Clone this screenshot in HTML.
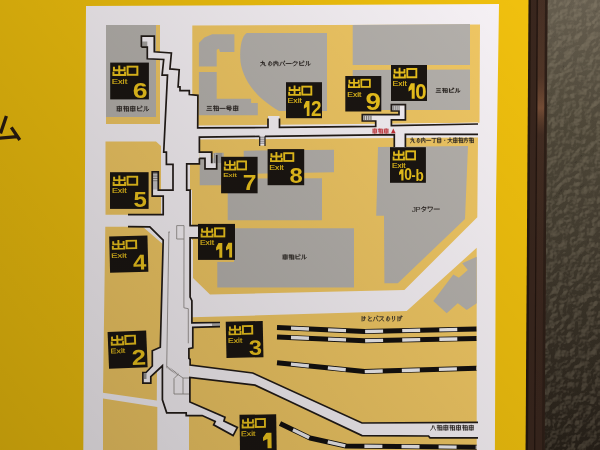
<!DOCTYPE html>
<html><head><meta charset="utf-8"><style>
html,body{margin:0;padding:0;width:600px;height:450px;overflow:hidden;background:#f5c40e;}
svg{display:block;font-family:"Liberation Sans",sans-serif;filter:blur(0.5px);}
</style></head><body>
<svg width="600" height="450" viewBox="0 0 600 450">
<defs>
<linearGradient id="shade" gradientUnits="userSpaceOnUse" x1="600" y1="0" x2="14.3" y2="468.5">
<stop offset="0" stop-color="#000" stop-opacity="0"/><stop offset="1" stop-color="#000" stop-opacity="0.24"/>
</linearGradient>
<linearGradient id="wallg" gradientUnits="userSpaceOnUse" x1="0" y1="0" x2="0" y2="450">
<stop offset="0" stop-color="#675f50"/><stop offset="0.28" stop-color="#50493a"/><stop offset="0.5" stop-color="#463f32"/><stop offset="1" stop-color="#282119"/>
</linearGradient>
<linearGradient id="copper" gradientUnits="userSpaceOnUse" x1="0" y1="0" x2="0" y2="450">
<stop offset="0" stop-color="#6a4a38" stop-opacity="0.25"/><stop offset="0.17" stop-color="#8a5a3c" stop-opacity="0.3"/><stop offset="0.24" stop-color="#a06a48" stop-opacity="0.6"/><stop offset="0.3" stop-color="#7a5238" stop-opacity="0.15"/><stop offset="0.6" stop-color="#5a3a28" stop-opacity="0.1"/><stop offset="1" stop-color="#3a2a20" stop-opacity="0"/>
</linearGradient>
<filter id="tex" x="0" y="0" width="100%" height="100%" color-interpolation-filters="sRGB">
<feTurbulence type="fractalNoise" baseFrequency="0.13" numOctaves="3" seed="4" result="n"/>
<feDiffuseLighting in="n" surfaceScale="2.2" diffuseConstant="1" lighting-color="#fff" result="l"><feDistantLight azimuth="225" elevation="55"/></feDiffuseLighting>
<feColorMatrix in="l" type="matrix" values="0 0 0 0 0.75  0 0 0 0 0.7  0 0 0 0 0.6  0.9 0 0 0 -0.66"/>
</filter>
<filter id="tex2" x="0" y="0" width="100%" height="100%" color-interpolation-filters="sRGB">
<feTurbulence type="fractalNoise" baseFrequency="0.13" numOctaves="3" seed="4" result="n"/>
<feDiffuseLighting in="n" surfaceScale="2.2" diffuseConstant="1" lighting-color="#fff" result="l"><feDistantLight azimuth="225" elevation="55"/></feDiffuseLighting>
<feColorMatrix in="l" type="matrix" values="0 0 0 0 0.05  0 0 0 0 0.04  0 0 0 0 0.03  -1.3 0 0 0 0.62"/>
</filter>
</defs>
<rect x="0" y="0" width="600" height="450" fill="#f5c40e"/>
<polygon points="546.0,0.0 600.0,0.0 600.0,450.0 543.5,450.0" fill="url(#wallg)" />
<rect x="540" y="0" width="60" height="450" filter="url(#tex)"/>
<rect x="540" y="0" width="60" height="450" filter="url(#tex2)"/>
<polygon points="528.0,0.0 547.5,0.0 544.5,450.0 525.3,450.0" fill="#3a271e" />
<polygon points="528.0,0.0 531.0,0.0 528.0,450.0 525.3,450.0" fill="#24170f" />
<polygon points="536.6,0.0 537.8,0.0 535.3,450.0 534.1,450.0" fill="#22150f" />
<polygon points="545.0,0.0 547.5,0.0 544.5,450.0 542.0,450.0" fill="#2e1f17" />
<polygon points="538.2,0.0 545.0,0.0 542.0,450.0 535.5,450.0" fill="url(#copper)" />
<polygon points="495.0,0.0 528.5,0.0 525.5,450.0 490.0,450.0" fill="#f5c40e" />
<polygon points="86.0,6.0 499.0,4.0 496.0,200.0 494.9,450.0 83.3,450.0" fill="#fcf7fb" />
<polygon points="106.0,25.0 160.0,25.0 160.0,124.0 106.0,124.0" fill="#f6cc66" />
<polygon points="106.0,25.0 156.0,25.0 156.0,117.0 106.0,117.0" fill="#b9b5b0" />
<polygon points="105.5,141.5 156.0,141.5 161.0,146.0 161.0,214.7 105.5,214.7" fill="#f6cc66" />
<polygon points="105.3,226.7 142.7,226.7 162.7,244.0 160.3,347.0 152.3,350.8 152.3,366.0 146.0,372.5 142.9,372.5 142.9,383.2 150.8,383.2 150.8,376.7 157.0,371.0 156.8,400.5 103.0,392.7" fill="#f6cc66" />
<polygon points="103.0,398.5 157.3,407.0 157.3,450.0 103.0,450.0" fill="#f6cc66" />
<polygon points="192.3,25.5 480.0,24.5 479.5,122.7 200.0,125.6 197.7,125.6 197.7,95.0 192.3,95.0" fill="#f6cc66" />
<polygon points="199.4,139.6 478.0,137.3 477.3,217.3 404.4,290.0 210.0,294.5 193.0,278.0 193.0,240.0 192.0,240.0 192.0,190.1 188.5,190.1 188.5,164.0 199.4,164.0" fill="#f6cc66" />
<polygon points="192.0,317.3 406.7,311.1 476.7,247.8 476.7,450.0 189.0,450.0 189.0,402.0 189.9,365.0 190.1,359.3 188.9,358.4 188.9,348.7 192.8,347.8 192.8,327.3 191.9,322.9" fill="#f6cc66" />
<polygon points="198.9,43.1 204.4,37.6 212.2,34.2 234.4,34.2 234.4,52.0 220.0,52.0 218.9,48.7 216.7,49.8 216.7,66.4 198.9,66.4" fill="#b9b5b0" />
<polygon points="198.9,72.0 216.7,72.0 216.7,98.7 251.1,98.7 251.1,103.1 257.8,103.1 257.8,115.3 198.9,115.3" fill="#b9b5b0" />
<path d="M246.7,33.1 C240.5,37 239.5,52 240.5,62 C243,80 256,98 279,111 L327,111 L327,33.1 Z" fill="#b9b5b0"/>
<polygon points="352.7,25.0 470.0,24.0 470.0,65.0 352.7,65.0" fill="#b9b5b0" />
<polygon points="352.7,70.0 470.0,69.5 470.0,110.0 352.7,110.0" fill="#b9b5b0" />
<polygon points="199.7,158.3 215.0,158.3 215.0,152.7 223.7,152.7 223.7,160.0 221.0,160.0 221.0,185.3 199.7,185.3" fill="#b9b5b0" />
<polygon points="243.7,150.7 334.0,149.7 334.0,172.3 243.7,174.0" fill="#b9b5b0" />
<polygon points="227.7,178.7 322.0,178.2 322.0,220.3 227.7,220.3" fill="#b9b5b0" />
<polygon points="234.0,228.3 354.0,228.3 354.0,287.5 217.3,287.5 217.3,262.0 234.0,262.0" fill="#b9b5b0" />
<polygon points="300.0,147.0 334.5,147.0 334.5,228.0 300.0,228.0" fill="#b9b5b0" opacity="0"/>
<polygon points="378.0,147.0 468.0,146.0 465.0,218.9 397.8,283.3 384.4,283.3 384.0,215.8 376.2,215.8" fill="#b9b5b0" />
<polygon points="433.3,301.1 453.3,274.4 458.9,277.8 467.8,270.0 462.2,263.3 476.7,256.7 476.7,303.3 466.7,310.0 457.8,303.3 446.7,313.3" fill="#b9b5b0" />
<polygon points="196.7,127.5 478.0,122.5 478.0,137.3 199.4,137.2" fill="#fcf7fb" />
<polygon points="141.4,36.2 154.3,36.2 154.3,51.8 171.4,53.0 169.9,68.9 179.2,69.7 178.1,86.8 180.0,86.8 180.0,90.7 189.3,90.7 189.3,94.5 197.9,95.3 197.9,128.0 165.0,128.0 167.5,75.1 162.1,75.1 163.7,59.5 147.3,58.8 147.3,47.1 141.4,47.1" fill="#fcf7fb" />
<polygon points="142.2,41.5 147.3,41.5 147.3,47.1 142.2,47.1" fill="#a9a6a3" />
<polygon points="268.0,116.0 279.5,116.0 279.5,128.0 268.0,128.0" fill="#fcf7fb" />
<polygon points="362.3,114.6 399.0,114.6 399.0,111.0 391.4,111.0 391.4,104.7 405.4,104.7 405.4,119.8 391.4,119.8 391.4,126.0 375.7,126.0 375.7,121.0 362.3,121.0" fill="#fcf7fb" />
<polygon points="363.3,115.8 372.0,115.8 372.0,120.0 363.3,120.0" fill="#9d9b99" />
<polygon points="392.4,105.8 400.0,105.8 400.0,110.0 392.4,110.0" fill="#9d9b99" />
<polygon points="394.3,134.0 405.4,134.0 405.4,148.0 394.3,148.0" fill="#fcf7fb" />
<polygon points="199.4,137.2 199.4,152.2 211.7,152.2 211.7,163.3 216.7,163.3 216.7,168.9 205.0,168.9 205.0,158.3 199.4,158.3" fill="#fcf7fb" />
<polygon points="213.5,153.0 222.0,153.0 222.0,163.0 213.5,163.0" fill="#a3a19f" />
<polygon points="173.0,164.4 173.0,190.1 158.3,190.1 158.3,171.8 152.2,171.8 152.2,196.2 163.2,196.2 163.2,214.6 128.0,214.6 128.0,226.7 149.8,226.8 163.2,240.2 190.0,240.0 190.0,164.4" fill="#fcf7fb" />
<polygon points="152.6,172.5 158.0,172.5 158.0,189.5 152.6,189.5" fill="#c9c7c8" />
<polygon points="190.1,225.6 198.5,225.6 198.5,237.8 190.1,237.8" fill="#fcf7fb" />
<polygon points="160.3,347.3 152.3,350.8 152.3,366.0 146.0,372.5 142.9,372.5 142.9,383.2 150.8,383.2 150.8,376.7 162.4,365.8 170.0,365.8 170.0,347.3" fill="#fcf7fb" />
<polygon points="144.0,373.5 146.5,373.5 146.5,379.0 144.0,379.0" fill="#9a9896" />
<polygon points="189.7,322.9 220.0,322.5 220.0,326.6 189.7,327.3" fill="#fcf7fb" />
<polygon points="189.9,365.1 252.7,373.0 362.0,423.0 478.0,422.4 478.0,437.8 430.0,437.8 428.5,436.0 362.0,435.6 286.7,400.0 255.0,385.2 189.9,377.4" fill="#fcf7fb" />
<polygon points="189.9,377.0 189.9,402.0 225.0,417.2 223.9,421.0 237.4,427.5 233.1,435.6 213.6,424.8 215.2,421.5 202.2,415.6 186.2,415.7 186.2,412.8 166.7,412.8 162.4,399.8 162.4,373.0 189.9,373.0" fill="#fcf7fb" />
<rect x="363.3" y="115.8" width="8.70" height="4.20" fill="#e4e1e3"/>
<g stroke="#8d8a87" stroke-width="1.20"><line x1="364.39" y1="115.8" x2="364.39" y2="120"/><line x1="366.56" y1="115.8" x2="366.56" y2="120"/><line x1="368.74" y1="115.8" x2="368.74" y2="120"/><line x1="370.91" y1="115.8" x2="370.91" y2="120"/></g>
<rect x="392.4" y="105.8" width="7.60" height="4.20" fill="#e4e1e3"/>
<g stroke="#8d8a87" stroke-width="1.05"><line x1="393.35" y1="105.8" x2="393.35" y2="110"/><line x1="395.25" y1="105.8" x2="395.25" y2="110"/><line x1="397.15" y1="105.8" x2="397.15" y2="110"/><line x1="399.05" y1="105.8" x2="399.05" y2="110"/></g>
<rect x="152.6" y="172.5" width="5.40" height="9.50" fill="#e4e1e3"/>
<g stroke="#8d8a87" stroke-width="1.31"><line x1="152.6" y1="173.69" x2="158" y2="173.69"/><line x1="152.6" y1="176.06" x2="158" y2="176.06"/><line x1="152.6" y1="178.44" x2="158" y2="178.44"/><line x1="152.6" y1="180.81" x2="158" y2="180.81"/></g>
<rect x="212" y="323.3" width="8.00" height="2.70" fill="#e4e1e3"/>
<g stroke="#8d8a87" stroke-width="1.10"><line x1="213.00" y1="323.3" x2="213.00" y2="326"/><line x1="215.00" y1="323.3" x2="215.00" y2="326"/><line x1="217.00" y1="323.3" x2="217.00" y2="326"/><line x1="219.00" y1="323.3" x2="219.00" y2="326"/></g>
<rect x="213.5" y="153.5" width="2.50" height="9.50" fill="#e4e1e3"/>
<g stroke="#9a9794" stroke-width="1.38"><line x1="214.75" y1="153.5" x2="214.75" y2="163"/></g>
<polyline points="141.4,47.1 141.4,36.2 154.3,36.2 154.3,51.8 171.4,53.0 169.9,68.9 179.2,69.7 178.1,86.8 180.0,86.8 180.0,90.7 189.3,90.7 189.3,94.5 197.9,95.3 197.7,127.8 268.0,127.5 268.0,118.5" stroke="#231c18" stroke-width="1.7" fill="none" stroke-linejoin="miter"/>
<polyline points="279.5,118.5 279.5,127.3 375.7,126.3 375.7,121.0 362.3,121.0 362.3,114.6 399.0,114.6 399.0,111.0 391.4,111.0 391.4,104.7 405.4,104.7 405.4,119.8 391.4,119.8 391.4,125.7 478.0,124.0" stroke="#231c18" stroke-width="1.7" fill="none" stroke-linejoin="miter"/>
<polyline points="199.4,158.3 205.0,158.3 205.0,168.9 216.7,168.9 216.7,155.0" stroke="#231c18" stroke-width="1.7" fill="none" stroke-linejoin="miter"/>
<polyline points="211.7,163.3 211.7,152.2 199.4,152.2 199.4,137.2 259.7,136.4" stroke="#231c18" stroke-width="1.7" fill="none" stroke-linejoin="miter"/>
<polyline points="265.0,136.3 394.3,134.6 394.3,147.0" stroke="#231c18" stroke-width="1.7" fill="none" stroke-linejoin="miter"/>
<polyline points="405.4,147.0 405.4,134.4 478.0,134.3" stroke="#231c18" stroke-width="1.7" fill="none" stroke-linejoin="miter"/>
<polygon points="259.7,135.0 265.0,135.0 265.0,145.5 259.7,145.5" fill="#fcf7fb" />
<g stroke="#8a8784" stroke-width="0.9"><line x1="260" y1="137.2" x2="264.7" y2="137.2"/><line x1="260" y1="139.2" x2="264.7" y2="139.2"/><line x1="260" y1="141.2" x2="264.7" y2="141.2"/><line x1="260" y1="143.2" x2="264.7" y2="143.2"/></g>
<polyline points="259.7,136.4 259.7,146.0" stroke="#231c18" stroke-width="1.2" fill="none" stroke-linejoin="miter"/>
<polyline points="265.0,136.3 265.0,146.0" stroke="#231c18" stroke-width="1.2" fill="none" stroke-linejoin="miter"/>
<polyline points="141.4,47.1 147.3,47.1 147.3,58.8 163.7,59.5 162.1,75.1 167.5,75.1 163.7,152.2 166.4,152.2 166.4,164.4 173.0,164.4 173.0,190.1 158.3,190.1 158.3,171.8 152.2,171.8 152.2,196.2 163.2,196.2 163.2,214.6 128.0,214.6" stroke="#231c18" stroke-width="1.7" fill="none" stroke-linejoin="miter"/>
<polyline points="199.4,158.3 199.4,163.9 186.7,163.9 186.7,190.1 190.1,190.1 190.1,225.6 198.5,225.6" stroke="#231c18" stroke-width="1.7" fill="none" stroke-linejoin="miter"/>
<polyline points="198.5,237.8 190.1,237.8 190.1,297.1 191.9,300.7 191.9,322.9 220.0,322.5" stroke="#231c18" stroke-width="1.7" fill="none" stroke-linejoin="miter"/>
<polyline points="220.0,326.6 192.8,327.3 192.8,347.8 188.9,348.7 188.9,358.4 190.1,359.3 190.1,365.1 252.7,373.0 362.0,423.0 478.0,422.4" stroke="#231c18" stroke-width="1.7" fill="none" stroke-linejoin="miter"/>
<polyline points="128.0,226.7 149.8,226.8 163.2,240.2 160.3,347.3 152.3,350.8 152.3,366.0 146.0,372.5 142.9,372.5 142.9,383.2 150.8,383.2 150.8,376.7 162.4,365.8 162.4,399.8 166.7,412.8 186.2,412.8 186.2,415.7 202.2,415.6 215.2,421.5 213.6,424.8 233.1,435.6 237.4,427.5 223.9,421.0 225.0,417.2 189.9,402.0 189.9,377.4 255.0,385.2 286.7,400.0 362.0,435.6 428.5,436.0 430.0,437.8 478.0,437.8" stroke="#231c18" stroke-width="1.7" fill="none" stroke-linejoin="miter"/>
<polyline points="168.9,232.0 166.7,367.3" stroke="#8a8582" stroke-width="0.8" fill="none"/>
<polyline points="176.7,225.6 176.7,239.0 184.0,239.0 184.0,225.6 176.7,225.6" stroke="#8a8582" stroke-width="0.8" fill="none"/>
<polyline points="184.0,239.0 183.9,307.8 188.3,308.7 188.3,343.3" stroke="#8a8582" stroke-width="0.8" fill="none"/>
<polyline points="168.5,232.0 170.0,232.0" stroke="#8a8582" stroke-width="0.8" fill="none"/>
<polyline points="167.0,367.0 178.0,374.5" stroke="#8a8582" stroke-width="2.2" fill="none" stroke-dasharray="0.7 0.7"/>
<polyline points="174.0,394.0 174.0,378.5 178.0,374.5 183.0,378.0 189.0,378.0" stroke="#8a8582" stroke-width="0.8" fill="none"/>
<polyline points="174.0,394.0 189.0,394.0" stroke="#8a8582" stroke-width="0.8" fill="none"/>
<polyline points="183.0,378.0 183.0,394.0" stroke="#8a8582" stroke-width="0.8" fill="none"/>
<polyline points="277.0,327.5 364.5,331.5 476.5,329.0" stroke="#141110" stroke-width="5.0" fill="none" stroke-linejoin="round"/>
<polyline points="277.0,327.5 364.5,331.5 476.5,329.0" stroke="#f4f2f4" stroke-width="3.4" fill="none" stroke-dasharray="18 19.1" stroke-dashoffset="23.1"/>
<polyline points="277.0,336.9 364.5,340.7 476.5,338.6" stroke="#141110" stroke-width="5.0" fill="none" stroke-linejoin="round"/>
<polyline points="277.0,336.9 364.5,340.7 476.5,338.6" stroke="#f4f2f4" stroke-width="3.4" fill="none" stroke-dasharray="18 19.1" stroke-dashoffset="23.1"/>
<polyline points="277.0,362.7 364.5,371.6 476.5,368.3" stroke="#141110" stroke-width="5.0" fill="none" stroke-linejoin="round"/>
<polyline points="277.0,362.7 364.5,371.6 476.5,368.3" stroke="#f4f2f4" stroke-width="3.4" fill="none" stroke-dasharray="18 19.1" stroke-dashoffset="23.1"/>
<polyline points="280.0,423.5 310.0,438.0 346.0,446.0 476.7,447.3" stroke="#141110" stroke-width="5.0" fill="none" stroke-linejoin="round"/>
<polyline points="280.0,423.5 310.0,438.0 346.0,446.0 476.7,447.3" stroke="#f4f2f4" stroke-width="3.4" fill="none" stroke-dasharray="18 19.1" stroke-dashoffset="22.7"/>
<g>
<rect x="110.2" y="62.6" width="38.70" height="36.80" fill="#1b1612"/>
<g transform="matrix(0.2590,0,0,0.2500,112.40,65.50)" fill="none" stroke="#f2c81e" stroke-width="7.8"><path d="M26.5,0V42 M6,5V18.6H47V5 M4,25.2V38.2H49V25.2"/><rect x="58.6" y="4.6" width="37.8" height="32.6"/></g>
<text transform="matrix(0.0937,0,0,0.0730,111.65,83.63)" font-size="100" font-weight="normal" fill="#f2c81e" stroke="#f2c81e" stroke-width="2">Exit</text>
<text transform="matrix(0.2667,0,0,0.2268,132.83,97.57)" font-size="100" font-weight="bold" fill="#f2c81e">6</text>
</g>
<g>
<rect x="110" y="172.2" width="38.60" height="36.70" fill="#1b1612"/>
<g transform="matrix(0.2550,0,0,0.2452,112.60,175.60)" fill="none" stroke="#f2c81e" stroke-width="7.8"><path d="M26.5,0V42 M6,5V18.6H47V5 M4,25.2V38.2H49V25.2"/><rect x="58.6" y="4.6" width="37.8" height="32.6"/></g>
<text transform="matrix(0.0892,0,0,0.0703,111.89,193.23)" font-size="100" font-weight="normal" fill="#f2c81e" stroke="#f2c81e" stroke-width="2">Exit</text>
<text transform="matrix(0.2400,0,0,0.2271,133.38,206.77)" font-size="100" font-weight="bold" fill="#f2c81e">5</text>
</g>
<g transform="rotate(-1.5,128.8,254.1)">
<rect x="109.6" y="235.9" width="38.30" height="36.40" fill="#1b1612"/>
<g transform="matrix(0.2530,0,0,0.2286,112.00,239.80)" fill="none" stroke="#f2c81e" stroke-width="7.8"><path d="M26.5,0V42 M6,5V18.6H47V5 M4,25.2V38.2H49V25.2"/><rect x="58.6" y="4.6" width="37.8" height="32.6"/></g>
<text transform="matrix(0.0937,0,0,0.0649,111.25,257.54)" font-size="100" font-weight="normal" fill="#f2c81e" stroke="#f2c81e" stroke-width="2">Exit</text>
<text transform="matrix(0.2377,0,0,0.2145,132.92,269.80)" font-size="100" font-weight="bold" fill="#f2c81e">4</text>
</g>
<g transform="rotate(-2.3,127.6,349.6)">
<rect x="108.3" y="331.2" width="38.60" height="36.80" fill="#1b1612"/>
<g transform="matrix(0.2530,0,0,0.2429,111.00,334.80)" fill="none" stroke="#f2c81e" stroke-width="7.8"><path d="M26.5,0V42 M6,5V18.6H47V5 M4,25.2V38.2H49V25.2"/><rect x="58.6" y="4.6" width="37.8" height="32.6"/></g>
<text transform="matrix(0.0899,0,0,0.0676,110.28,352.73)" font-size="100" font-weight="normal" fill="#f2c81e" stroke="#f2c81e" stroke-width="2">Exit</text>
<text transform="matrix(0.2571,0,0,0.2129,131.33,365.20)" font-size="100" font-weight="bold" fill="#f2c81e">2</text>
</g>
<g>
<rect x="221.1" y="156.8" width="36.50" height="36.50" fill="#1b1612"/>
<g transform="matrix(0.2310,0,0,0.2452,223.80,160.30)" fill="none" stroke="#f2c81e" stroke-width="7.8"><path d="M26.5,0V42 M6,5V18.6H47V5 M4,25.2V38.2H49V25.2"/><rect x="58.6" y="4.6" width="37.8" height="32.6"/></g>
<text transform="matrix(0.0816,0,0,0.0595,223.15,177.14)" font-size="100" font-weight="normal" fill="#f2c81e" stroke="#f2c81e" stroke-width="2">Exit</text>
<text transform="matrix(0.2468,0,0,0.2221,242.81,190.32)" font-size="100" font-weight="bold" fill="#f2c81e">7</text>
</g>
<g>
<rect x="267.6" y="149.1" width="36.60" height="36.10" fill="#1b1612"/>
<g transform="matrix(0.2420,0,0,0.2381,270.00,152.10)" fill="none" stroke="#f2c81e" stroke-width="7.8"><path d="M26.5,0V42 M6,5V18.6H47V5 M4,25.2V38.2H49V25.2"/><rect x="58.6" y="4.6" width="37.8" height="32.6"/></g>
<text transform="matrix(0.0867,0,0,0.0662,269.31,169.83)" font-size="100" font-weight="normal" fill="#f2c81e" stroke="#f2c81e" stroke-width="2">Exit</text>
<text transform="matrix(0.2380,0,0,0.2155,289.59,183.38)" font-size="100" font-weight="bold" fill="#f2c81e">8</text>
</g>
<g>
<rect x="286" y="82.2" width="36.00" height="36.00" fill="#1b1612"/>
<g transform="matrix(0.2400,0,0,0.2452,288.20,85.50)" fill="none" stroke="#f2c81e" stroke-width="7.8"><path d="M26.5,0V42 M6,5V18.6H47V5 M4,25.2V38.2H49V25.2"/><rect x="58.6" y="4.6" width="37.8" height="32.6"/></g>
<text transform="matrix(0.0873,0,0,0.0770,287.50,103.12)" font-size="100" font-weight="normal" fill="#f2c81e" stroke="#f2c81e" stroke-width="2">Exit</text>
<polygon points="306.8,101.1 309.5,101.1 309.5,116.0 306.8,116.0 306.8,107.1 303.9,108.8 303.9,105.6 306.0,101.1" fill="#f2c81e" />
<text transform="matrix(0.1898,0,0,0.2143,311.03,116.00)" font-size="100" font-weight="bold" fill="#f2c81e">2</text>
</g>
<g>
<rect x="345.3" y="76" width="36.00" height="35.50" fill="#1b1612"/>
<g transform="matrix(0.2270,0,0,0.2214,348.00,78.70)" fill="none" stroke="#f2c81e" stroke-width="7.8"><path d="M26.5,0V42 M6,5V18.6H47V5 M4,25.2V38.2H49V25.2"/><rect x="58.6" y="4.6" width="37.8" height="32.6"/></g>
<text transform="matrix(0.0842,0,0,0.0716,347.33,96.73)" font-size="100" font-weight="normal" fill="#f2c81e" stroke="#f2c81e" stroke-width="2">Exit</text>
<text transform="matrix(0.2771,0,0,0.2366,365.59,109.86)" font-size="100" font-weight="bold" fill="#f2c81e">9</text>
</g>
<g>
<rect x="391" y="65" width="36.00" height="36.00" fill="#1b1612"/>
<g transform="matrix(0.2400,0,0,0.2548,393.20,67.80)" fill="none" stroke="#f2c81e" stroke-width="7.8"><path d="M26.5,0V42 M6,5V18.6H47V5 M4,25.2V38.2H49V25.2"/><rect x="58.6" y="4.6" width="37.8" height="32.6"/></g>
<text transform="matrix(0.0861,0,0,0.0716,392.51,85.73)" font-size="100" font-weight="normal" fill="#f2c81e" stroke="#f2c81e" stroke-width="2">Exit</text>
<polygon points="411.7,83.3 414.7,83.3 414.7,98.8 411.7,98.8 411.7,89.5 408.5,91.4 408.5,88.0 410.9,83.3" fill="#f2c81e" />
<text transform="matrix(0.2043,0,0,0.2225,415.18,98.88)" font-size="100" font-weight="bold" fill="#f2c81e">0</text>
</g>
<g>
<rect x="390" y="147.2" width="35.90" height="35.60" fill="#1b1612"/>
<g transform="matrix(0.2330,0,0,0.2476,392.60,150.20)" fill="none" stroke="#f2c81e" stroke-width="7.8"><path d="M26.5,0V42 M6,5V18.6H47V5 M4,25.2V38.2H49V25.2"/><rect x="58.6" y="4.6" width="37.8" height="32.6"/></g>
<text transform="matrix(0.0823,0,0,0.0649,391.94,167.54)" font-size="100" font-weight="normal" fill="#f2c81e" stroke="#f2c81e" stroke-width="2">Exit</text>
<polygon points="401.3,169.2 403.5,169.2 403.5,180.6 401.3,180.6 401.3,173.8 399.0,175.1 399.0,172.6 400.7,169.2" fill="#f2c81e" />
<text transform="matrix(0.1383,0,0,0.1606,404.35,180.44)" font-size="100" font-weight="bold" fill="#f2c81e">0</text>
<text transform="matrix(0.1240,0,0,0.1417,411.50,180.03)" font-size="100" font-weight="bold" fill="#f2c81e">-</text>
<text transform="matrix(0.1360,0,0,0.1671,415.55,180.60)" font-size="100" font-weight="bold" fill="#f2c81e">b</text>
</g>
<g>
<rect x="198" y="223.9" width="37.00" height="36.00" fill="#1b1612"/>
<g transform="matrix(0.2460,0,0,0.2476,200.60,227.20)" fill="none" stroke="#f2c81e" stroke-width="7.8"><path d="M26.5,0V42 M6,5V18.6H47V5 M4,25.2V38.2H49V25.2"/><rect x="58.6" y="4.6" width="37.8" height="32.6"/></g>
<text transform="matrix(0.0854,0,0,0.0676,199.92,244.73)" font-size="100" font-weight="normal" fill="#f2c81e" stroke="#f2c81e" stroke-width="2">Exit</text>
<polygon points="219.3,243.0 222.3,243.0 222.3,257.7 219.3,257.7 219.3,248.9 216.1,250.6 216.1,247.4 218.5,243.0" fill="#f2c81e" />
<polygon points="229.2,242.8 232.1,242.8 232.1,257.5 229.2,257.5 229.2,248.7 226.0,250.4 226.0,247.2 228.3,242.8" fill="#f2c81e" />
</g>
<g transform="rotate(-1.2,244.6,339.5)">
<rect x="226.1" y="321.4" width="37.00" height="36.20" fill="#1b1612"/>
<g transform="matrix(0.2460,0,0,0.2381,228.70,325.00)" fill="none" stroke="#f2c81e" stroke-width="7.8"><path d="M26.5,0V42 M6,5V18.6H47V5 M4,25.2V38.2H49V25.2"/><rect x="58.6" y="4.6" width="37.8" height="32.6"/></g>
<text transform="matrix(0.0854,0,0,0.0676,228.02,342.73)" font-size="100" font-weight="normal" fill="#f2c81e" stroke="#f2c81e" stroke-width="2">Exit</text>
<text transform="matrix(0.2360,0,0,0.2099,248.63,354.99)" font-size="100" font-weight="bold" fill="#f2c81e">3</text>
</g>
<g transform="rotate(-0.8,258.1,437.3)">
<rect x="239.8" y="414.6" width="36.70" height="45.40" fill="#1b1612"/>
<g transform="matrix(0.2420,0,0,0.2429,241.80,418.00)" fill="none" stroke="#f2c81e" stroke-width="7.8"><path d="M26.5,0V42 M6,5V18.6H47V5 M4,25.2V38.2H49V25.2"/><rect x="58.6" y="4.6" width="37.8" height="32.6"/></g>
<text transform="matrix(0.0867,0,0,0.0703,241.11,435.93)" font-size="100" font-weight="normal" fill="#f2c81e" stroke="#f2c81e" stroke-width="2">Exit</text>
<polygon points="267.4,433.0 271.5,433.0 271.5,448.5 267.4,448.5 267.4,439.2 263.0,441.1 263.0,437.6 266.2,433.0" fill="#f2c81e" />
</g>
<g fill="none" stroke="#2f2a26" stroke-width="1.545" stroke-linecap="round" stroke-linejoin="round"><path transform="matrix(0.6030,0,0,0.5500,116.33,106.00)" d="M1,1.2H9 M1.5,5H8.5 M1,8.8H9 M5,0.3V9.7 M1.6,2.5V7.5 M8.4,2.5V7.5"/><path transform="matrix(0.6030,0,0,0.5500,123.03,106.00)" d="M0.8,1.5H4.2 M0.8,5H4.2 M2.5,0.3V9.7 M5.5,1.2H9.2V9.5 M5.5,1.2V9.5 M5.5,5H9.2 M5.5,8.8H9.2"/><path transform="matrix(0.6030,0,0,0.5500,129.74,106.00)" d="M1,1.2H9 M1.5,5H8.5 M1,8.8H9 M5,0.3V9.7 M1.6,2.5V7.5 M8.4,2.5V7.5"/><path transform="matrix(0.6030,0,0,0.5500,136.44,106.00)" d="M2,0.8V8.8H9 M2,4.8C4.5,4.3 6.5,3.8 8,3 M7.6,0.3L8.6,1.5 M8.8,0L9.8,1"/><path transform="matrix(0.6030,0,0,0.5500,143.14,106.00)" d="M3,0.8V5.5C3,7.5 2,8.8 0.7,9.5 M6,0.8V9.2C7.5,8.5 8.5,7.5 9.3,6"/></g>
<g fill="none" stroke="#2f2a26" stroke-width="1.574" stroke-linecap="round" stroke-linejoin="round"><path transform="matrix(0.5940,0,0,0.5400,206.33,105.60)" d="M1.5,1.5H8.5 M2,5H8 M0.7,8.8H9.3"/><path transform="matrix(0.5940,0,0,0.5400,212.93,105.60)" d="M0.8,1.5H4.2 M0.8,5H4.2 M2.5,0.3V9.7 M5.5,1.2H9.2V9.5 M5.5,1.2V9.5 M5.5,5H9.2 M5.5,8.8H9.2"/><path transform="matrix(0.5940,0,0,0.5400,219.53,105.60)" d="M0.5,5.2H9.5"/><path transform="matrix(0.5940,0,0,0.5400,226.13,105.60)" d="M2,0.8H8V3.5H2Z M0.5,5H9.5 M3,5L2,7.2H8C8,9.5 6.5,9.6 5.5,9.4"/><path transform="matrix(0.5940,0,0,0.5400,232.73,105.60)" d="M1,1.2H9 M1.5,5H8.5 M1,8.8H9 M5,0.3V9.7 M1.6,2.5V7.5 M8.4,2.5V7.5"/></g>
<g fill="none" stroke="#2f2a26" stroke-width="1.700" stroke-linecap="round" stroke-linejoin="round"><path transform="matrix(0.5737,0,0,0.5000,260.32,61.00)" d="M0.8,3H7V8.8C7,9.5 8,9.6 9.5,9.2 M4,0.3V3C4,6.5 2.5,8.5 0.5,9.7 M4.8,5.5L6.5,7"/><path transform="matrix(0.5737,0,0,0.5000,266.69,61.00)" d="M5,1.5C3,4 2.5,9 4,8.5C5.5,8 6,4 5,1.5C8.5,1.5 9.5,4.5 9,6.5C8.5,8.5 7,9.3 5.5,9.6"/><path transform="matrix(0.5737,0,0,0.5000,273.07,61.00)" d="M1.5,2.2V9.7 M1.5,2.2H8.5V9.5 M5,0.3V4C5,5 3.5,6.8 2.5,7.5 M5,4.5L7.3,7"/><path transform="matrix(0.5737,0,0,0.5000,279.44,61.00)" d="M3.2,2.5C2.8,5.5 2,7.5 0.7,9.5 M6,2.5C7,5 8,7.5 9.3,9.3 M8.6,0.3a0.8,0.8 0 1,0 0.1,0"/><path transform="matrix(0.5737,0,0,0.5000,285.82,61.00)" d="M0.5,5H9.5"/><path transform="matrix(0.5737,0,0,0.5000,292.19,61.00)" d="M4.5,0.5C3.5,2.5 2.5,3.5 0.8,4.5 M3.5,2H9C8,6 6,8.5 3,9.7"/><path transform="matrix(0.5737,0,0,0.5000,298.57,61.00)" d="M2,0.8V8.8H9 M2,4.8C4.5,4.3 6.5,3.8 8,3 M7.6,0.3L8.6,1.5 M8.8,0L9.8,1"/><path transform="matrix(0.5737,0,0,0.5000,304.94,61.00)" d="M3,0.8V5.5C3,7.5 2,8.8 0.7,9.5 M6,0.8V9.2C7.5,8.5 8.5,7.5 9.3,6"/></g>
<g fill="none" stroke="#2f2a26" stroke-width="1.771" stroke-linecap="round" stroke-linejoin="round"><path transform="matrix(0.5715,0,0,0.4800,435.62,88.00)" d="M1.5,1.5H8.5 M2,5H8 M0.7,8.8H9.3"/><path transform="matrix(0.5715,0,0,0.4800,441.97,88.00)" d="M0.8,1.5H4.2 M0.8,5H4.2 M2.5,0.3V9.7 M5.5,1.2H9.2V9.5 M5.5,1.2V9.5 M5.5,5H9.2 M5.5,8.8H9.2"/><path transform="matrix(0.5715,0,0,0.4800,448.32,88.00)" d="M2,0.8V8.8H9 M2,4.8C4.5,4.3 6.5,3.8 8,3 M7.6,0.3L8.6,1.5 M8.8,0L9.8,1"/><path transform="matrix(0.5715,0,0,0.4800,454.67,88.00)" d="M3,0.8V5.5C3,7.5 2,8.8 0.7,9.5 M6,0.8V9.2C7.5,8.5 8.5,7.5 9.3,6"/></g>
<g fill="none" stroke="#2f2a26" stroke-width="1.574" stroke-linecap="round" stroke-linejoin="round"><path transform="matrix(0.4800,0,0,0.5400,410.27,137.60)" d="M0.8,3H7V8.8C7,9.5 8,9.6 9.5,9.2 M4,0.3V3C4,6.5 2.5,8.5 0.5,9.7 M4.8,5.5L6.5,7"/><path transform="matrix(0.4800,0,0,0.5400,415.60,137.60)" d="M5,1.5C3,4 2.5,9 4,8.5C5.5,8 6,4 5,1.5C8.5,1.5 9.5,4.5 9,6.5C8.5,8.5 7,9.3 5.5,9.6"/><path transform="matrix(0.4800,0,0,0.5400,420.93,137.60)" d="M1.5,2.2V9.7 M1.5,2.2H8.5V9.5 M5,0.3V4C5,5 3.5,6.8 2.5,7.5 M5,4.5L7.3,7"/><path transform="matrix(0.4800,0,0,0.5400,426.27,137.60)" d="M0.5,5.2H9.5"/><path transform="matrix(0.4800,0,0,0.5400,431.60,137.60)" d="M0.5,1.5H9.5 M5.5,1.5V9.5L4,8.8"/><path transform="matrix(0.4800,0,0,0.5400,436.93,137.60)" d="M2,0.8H8V9.5H2Z M2,3.7H8 M2,6.6H8"/><path transform="matrix(0.4800,0,0,0.5400,442.27,137.60)" d="M4.6,5H5.4"/><path transform="matrix(0.4800,0,0,0.5400,447.60,137.60)" d="M0.5,3.8H9.5 M5,0.3V3.8C5,7 3,9 0.5,9.7 M5,4C6,7 7.5,9 9.5,9.7"/><path transform="matrix(0.4800,0,0,0.5400,452.93,137.60)" d="M1,1.2H9 M1.5,5H8.5 M1,8.8H9 M5,0.3V9.7 M1.6,2.5V7.5 M8.4,2.5V7.5"/><path transform="matrix(0.4800,0,0,0.5400,458.27,137.60)" d="M0.8,1.5H4.2 M0.8,5H4.2 M2.5,0.3V9.7 M5.5,1.2H9.2V9.5 M5.5,1.2V9.5 M5.5,5H9.2 M5.5,8.8H9.2"/><path transform="matrix(0.4800,0,0,0.5400,463.60,137.60)" d="M5,0.3V2 M0.5,2.2H9.5 M3,2.2C3,6 2,8.5 0.5,9.7 M3,4.5H8C8,8 7.5,9.5 5.5,9.5"/><path transform="matrix(0.4800,0,0,0.5400,468.93,137.60)" d="M0.8,1.5H4.2 M0.8,5H4.2 M2.5,0.3V9.7 M5.5,1.2H9.2V9.5 M5.5,1.2V9.5 M5.5,5H9.2 M5.5,8.8H9.2"/></g>
<g fill="none" stroke="#2f2a26" stroke-width="1.700" stroke-linecap="round" stroke-linejoin="round"><path transform="matrix(0.5625,0,0,0.5000,282.31,254.50)" d="M1,1.2H9 M1.5,5H8.5 M1,8.8H9 M5,0.3V9.7 M1.6,2.5V7.5 M8.4,2.5V7.5"/><path transform="matrix(0.5625,0,0,0.5000,288.56,254.50)" d="M0.8,1.5H4.2 M0.8,5H4.2 M2.5,0.3V9.7 M5.5,1.2H9.2V9.5 M5.5,1.2V9.5 M5.5,5H9.2 M5.5,8.8H9.2"/><path transform="matrix(0.5625,0,0,0.5000,294.81,254.50)" d="M2,0.8V8.8H9 M2,4.8C4.5,4.3 6.5,3.8 8,3 M7.6,0.3L8.6,1.5 M8.8,0L9.8,1"/><path transform="matrix(0.5625,0,0,0.5000,301.06,254.50)" d="M3,0.8V5.5C3,7.5 2,8.8 0.7,9.5 M6,0.8V9.2C7.5,8.5 8.5,7.5 9.3,6"/></g>
<g fill="none" stroke="#2f2a26" stroke-width="1.604" stroke-linecap="round" stroke-linejoin="round"><path transform="matrix(0.5374,0,0,0.5300,361.00,316.00)" d="M2,0.8V9.5 M3.8,3.5H8.5 M6.2,0.8V8C6.2,9.5 3.8,9.6 4.5,8"/><path transform="matrix(0.5374,0,0,0.5300,366.97,316.00)" d="M3.5,0.5L4.3,5 M8,3C4,5 1.5,6.5 2.5,8.5C3.5,9.7 6,9.5 8.5,9.2"/><path transform="matrix(0.5374,0,0,0.5300,372.94,316.00)" d="M3.2,2.5C2.8,5.5 2,7.5 0.7,9.5 M6,2.5C7,5 8,7.5 9.3,9.3 M7.8,0.3L8.5,1.5 M9,0L9.7,1.2"/><path transform="matrix(0.5374,0,0,0.5300,378.91,316.00)" d="M1.5,1.5H8.3C6.5,5.5 4,8 0.8,9.6 M5.2,6L9.2,9.6"/><path transform="matrix(0.5374,0,0,0.5300,384.88,316.00)" d="M5,1.5C3,4 2.5,9 4,8.5C5.5,8 6,4 5,1.5C8.5,1.5 9.5,4.5 9,6.5C8.5,8.5 7,9.3 5.5,9.6"/><path transform="matrix(0.5374,0,0,0.5300,390.86,316.00)" d="M3,0.8V6 M7,0.8V5.5C7,8 5.5,9.2 3.5,9.7"/><path transform="matrix(0.5374,0,0,0.5300,396.83,316.00)" d="M2,0.8V9.5 M3.8,3.5H8.5 M6.2,0.8V8C6.2,9.5 3.8,9.6 4.5,8 M8.3,0L9,1.2 M9.3,0L9.9,1"/></g>
<g fill="none" stroke="#2f2a26" stroke-width="1.545" stroke-linecap="round" stroke-linejoin="round"><path transform="matrix(0.5709,0,0,0.5500,430.32,425.00)" d="M4,1.5C4,5 3,8 0.5,9.5 M6,1.5C6.5,5 7.5,8 9.5,9.5"/><path transform="matrix(0.5709,0,0,0.5500,436.66,425.00)" d="M0.8,1.5H4.2 M0.8,5H4.2 M2.5,0.3V9.7 M5.5,1.2H9.2V9.5 M5.5,1.2V9.5 M5.5,5H9.2 M5.5,8.8H9.2"/><path transform="matrix(0.5709,0,0,0.5500,443.00,425.00)" d="M1,1.2H9 M1.5,5H8.5 M1,8.8H9 M5,0.3V9.7 M1.6,2.5V7.5 M8.4,2.5V7.5"/><path transform="matrix(0.5709,0,0,0.5500,449.35,425.00)" d="M0.8,1.5H4.2 M0.8,5H4.2 M2.5,0.3V9.7 M5.5,1.2H9.2V9.5 M5.5,1.2V9.5 M5.5,5H9.2 M5.5,8.8H9.2"/><path transform="matrix(0.5709,0,0,0.5500,455.69,425.00)" d="M1,1.2H9 M1.5,5H8.5 M1,8.8H9 M5,0.3V9.7 M1.6,2.5V7.5 M8.4,2.5V7.5"/><path transform="matrix(0.5709,0,0,0.5500,462.03,425.00)" d="M0.8,1.5H4.2 M0.8,5H4.2 M2.5,0.3V9.7 M5.5,1.2H9.2V9.5 M5.5,1.2V9.5 M5.5,5H9.2 M5.5,8.8H9.2"/><path transform="matrix(0.5709,0,0,0.5500,468.37,425.00)" d="M1,1.2H9 M1.5,5H8.5 M1,8.8H9 M5,0.3V9.7 M1.6,2.5V7.5 M8.4,2.5V7.5"/></g>
<g fill="none" stroke="#c8333a" stroke-width="1.735" stroke-linecap="round" stroke-linejoin="round"><path transform="matrix(0.5100,0,0,0.4900,372.28,128.60)" d="M1,1.2H9 M1.5,5H8.5 M1,8.8H9 M5,0.3V9.7 M1.6,2.5V7.5 M8.4,2.5V7.5"/><path transform="matrix(0.5100,0,0,0.4900,377.95,128.60)" d="M0.8,1.5H4.2 M0.8,5H4.2 M2.5,0.3V9.7 M5.5,1.2H9.2V9.5 M5.5,1.2V9.5 M5.5,5H9.2 M5.5,8.8H9.2"/><path transform="matrix(0.5100,0,0,0.4900,383.62,128.60)" d="M1,1.2H9 M1.5,5H8.5 M1,8.8H9 M5,0.3V9.7 M1.6,2.5V7.5 M8.4,2.5V7.5"/></g>
<polygon points="391.0,133.2 393.3,128.6 395.6,133.2" fill="#c8333a" />
<text transform="matrix(0.0854,0,0,0.0757,411.83,211.62)" font-size="100" font-weight="normal" fill="#2f2a26">J</text>
<text transform="matrix(0.0755,0,0,0.0768,415.40,211.70)" font-size="100" font-weight="normal" fill="#2f2a26">P</text>
<g fill="none" stroke="#2f2a26" stroke-width="1.604" stroke-linecap="round" stroke-linejoin="round"><path transform="matrix(0.5850,0,0,0.5300,420.82,206.40)" d="M4.5,0.5C3.5,2.5 2.5,3.5 0.8,4.5 M3.5,2H9C8,6 6,8.5 3,9.7 M3.5,5L7,7"/><path transform="matrix(0.5850,0,0,0.5300,427.32,206.40)" d="M1.5,1V4 M1.5,1.5H9C8.5,6 6.5,8.5 3.5,9.7"/><path transform="matrix(0.5850,0,0,0.5300,433.82,206.40)" d="M0.5,5H9.5"/></g>
<path d="M6.4,116 L0.5,133.5 M-1,138.3 L17.3,136.6 M11.3,127.3 L19.8,140" stroke="#2b1c12" stroke-width="3.3" fill="none"/>
<rect x="0" y="0" width="600" height="450" fill="url(#shade)"/>
</svg>
</body></html>
